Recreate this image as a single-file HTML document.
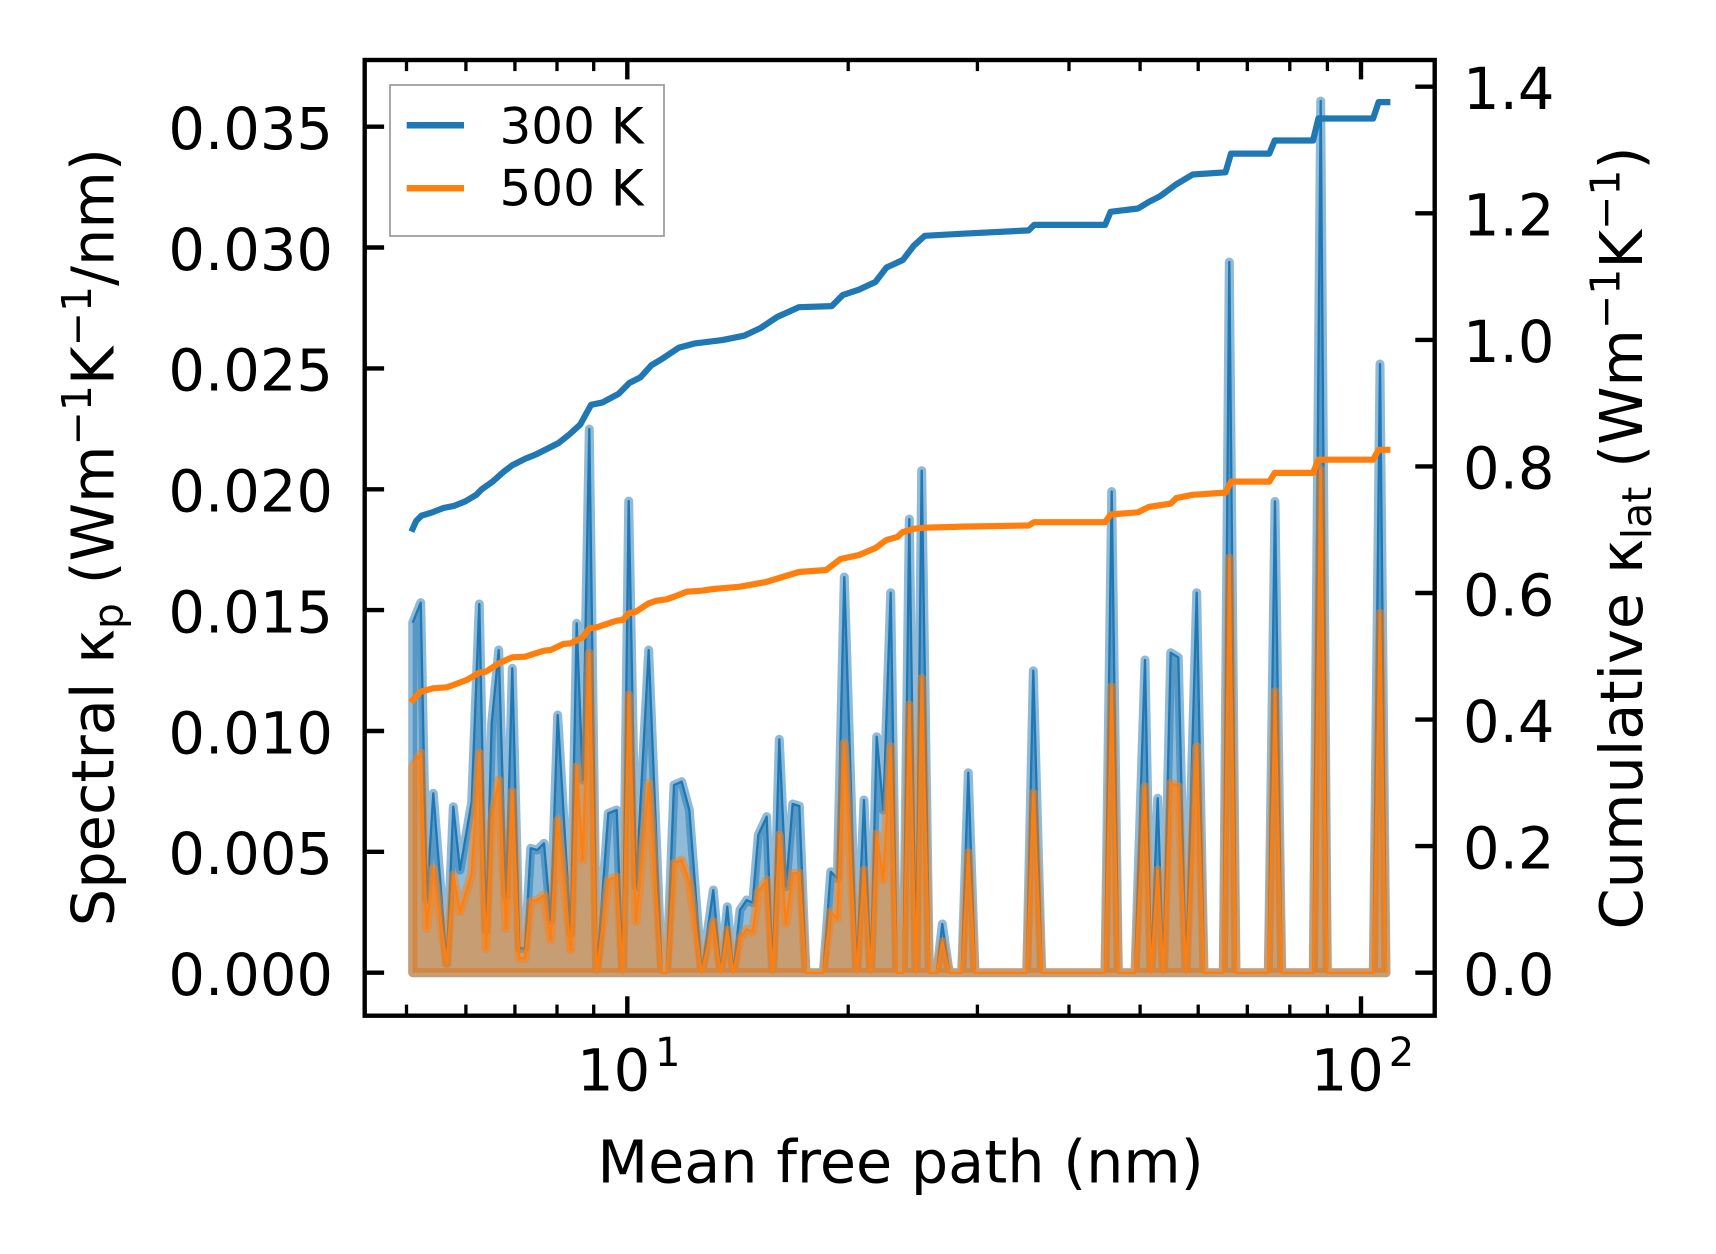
<!DOCTYPE html>
<html><head><meta charset="utf-8"><style>
html,body{margin:0;padding:0;background:#fff;}
svg{display:block;}
text{font-family:"DejaVu Sans","Liberation Sans",sans-serif;fill:#000;}
</style></head><body>
<svg width="1716" height="1254" viewBox="0 0 1716 1254" xmlns="http://www.w3.org/2000/svg">
<rect x="0" y="0" width="1716" height="1254" fill="#fff"/>

<!-- blue spectral fill -->
<path d="M412.7,972.7 L412.7,622.7 420.7,602.7 426.7,900 433.3,793.3 446.7,963.3 453.3,806.7 460,870 471.7,801.7 479.3,604 486,930 491.7,723.3 498.7,650 506,896.7 512.3,668.3 519.3,948.3 525,948.3 530.7,848.3 537.3,850 544,843.3 550.7,920 557.7,715 570.7,933.3 576.7,623.3 582.7,780 589.3,429 596.7,972.7 608.3,813.3 616.7,810 622.7,972.7 628.7,501 636,886.7 648.7,650 661.7,972.7 666.7,972.7 674,785 681.7,781.7 689.3,810 701.7,972.7 713.3,890 720.7,972.7 727.3,906.7 733.3,972.7 740,910 746.7,900 752.7,902.7 758.3,835 766.7,816.7 772.7,972.7 779.3,739.3 786,886.7 792.7,804 799.3,806 806,972.7 823.3,972.7 830.7,871.7 837.3,878.3 844.3,577 856.7,972.7 864,800 870.7,972.7 876.7,736.7 883.3,810 890.7,592.7 896.7,972.7 903.3,972.7 909.3,519 916,972.7 921.7,470.6 929.3,972.7 936.7,972.7 942.3,924 949.3,972.7 961.7,972.7 968.3,772.7 975,972.7 1026.7,972.7 1033.3,670.7 1041.7,972.7 1105,972.7 1111.7,491.5 1118.3,972.7 1135,972.7 1145,660 1151,972.7 1157.7,798.3 1163.3,972.7 1170.7,652.7 1178.3,657.3 1186,972.7 1196.7,592.7 1204,972.7 1223.3,972.7 1229.3,262 1236,972.7 1268.3,972.7 1275,501.4 1281.7,972.7 1313.3,972.7 1320.7,101 1327.3,972.7 1373.3,972.7 1380,364 1386,972.7 Z" fill="#1f77b4" fill-opacity="0.5" stroke="#1f77b4" stroke-opacity="0.5" stroke-width="9" stroke-linejoin="round"/>
<polyline points="412.7,622.7 420.7,602.7 426.7,900 433.3,793.3 446.7,963.3 453.3,806.7 460,870 471.7,801.7 479.3,604 486,930 491.7,723.3 498.7,650 506,896.7 512.3,668.3 519.3,948.3 525,948.3 530.7,848.3 537.3,850 544,843.3 550.7,920 557.7,715 570.7,933.3 576.7,623.3 582.7,780 589.3,429 596.7,972.7 608.3,813.3 616.7,810 622.7,972.7 628.7,501 636,886.7 648.7,650 661.7,972.7 666.7,972.7 674,785 681.7,781.7 689.3,810 701.7,972.7 713.3,890 720.7,972.7 727.3,906.7 733.3,972.7 740,910 746.7,900 752.7,902.7 758.3,835 766.7,816.7 772.7,972.7 779.3,739.3 786,886.7 792.7,804 799.3,806 806,972.7 823.3,972.7 830.7,871.7 837.3,878.3 844.3,577 856.7,972.7 864,800 870.7,972.7 876.7,736.7 883.3,810 890.7,592.7 896.7,972.7 903.3,972.7 909.3,519 916,972.7 921.7,470.6 929.3,972.7 936.7,972.7 942.3,924 949.3,972.7 961.7,972.7 968.3,772.7 975,972.7 1026.7,972.7 1033.3,670.7 1041.7,972.7 1105,972.7 1111.7,491.5 1118.3,972.7 1135,972.7 1145,660 1151,972.7 1157.7,798.3 1163.3,972.7 1170.7,652.7 1178.3,657.3 1186,972.7 1196.7,592.7 1204,972.7 1223.3,972.7 1229.3,262 1236,972.7 1268.3,972.7 1275,501.4 1281.7,972.7 1313.3,972.7 1320.7,101 1327.3,972.7 1373.3,972.7 1380,364 1386,972.7" fill="none" stroke="#1f77b4" stroke-width="2.3" stroke-linejoin="round"/>

<!-- orange spectral fill -->
<path d="M412.7,972.7 L412.7,766.7 420.7,753.3 426.7,928.3 433.3,868.3 446.7,963.3 453.3,875 460,911.7 471.7,873.3 479.3,753.3 486,948.3 491.7,820 498.7,780 506,928.3 512.3,791.7 519.3,958.3 525,958.3 530.7,901.7 537.3,900 544,895 550.7,940 557.7,820 570.7,950 576.7,766.7 582.7,860 589.3,653.3 596.7,972.7 608.3,880 616.7,876.7 622.7,972.7 628.7,695 636,921.7 648.7,783.3 661.7,972.7 666.7,972.7 674,863.3 681.7,860 689.3,881.7 701.7,972.7 713.3,921.7 720.7,972.7 727.3,930 733.3,972.7 740,938.3 746.7,929.3 752.7,931.7 758.3,891.7 766.7,880 772.7,972.7 779.3,835 786,923.3 792.7,873.3 799.3,873.3 806,972.7 823.3,972.7 830.7,911.7 837.3,918.3 844.3,743.3 856.7,972.7 864,870 870.7,972.7 876.7,834 883.3,880 890.7,746.7 896.7,972.7 903.3,972.7 909.3,705 916,972.7 921.7,678.3 929.3,972.7 936.7,972.7 942.3,941.7 949.3,972.7 961.7,972.7 968.3,852.7 975,972.7 1026.7,972.7 1033.3,793.3 1041.7,972.7 1105,972.7 1111.7,686.7 1118.3,972.7 1135,972.7 1145,786.7 1151,972.7 1157.7,870 1163.3,972.7 1170.7,783.3 1178.3,786.7 1186,972.7 1196.7,746.7 1204,972.7 1223.3,972.7 1229.3,558 1236,972.7 1268.3,972.7 1275,691.7 1281.7,972.7 1313.3,972.7 1320.7,470 1327.3,972.7 1373.3,972.7 1380,613.3 1386,972.7 Z" fill="#ff7f0e" fill-opacity="0.5" stroke="#ff7f0e" stroke-opacity="0.5" stroke-width="9" stroke-linejoin="round"/>
<polyline points="412.7,766.7 420.7,753.3 426.7,928.3 433.3,868.3 446.7,963.3 453.3,875 460,911.7 471.7,873.3 479.3,753.3 486,948.3 491.7,820 498.7,780 506,928.3 512.3,791.7 519.3,958.3 525,958.3 530.7,901.7 537.3,900 544,895 550.7,940 557.7,820 570.7,950 576.7,766.7 582.7,860 589.3,653.3 596.7,972.7 608.3,880 616.7,876.7 622.7,972.7 628.7,695 636,921.7 648.7,783.3 661.7,972.7 666.7,972.7 674,863.3 681.7,860 689.3,881.7 701.7,972.7 713.3,921.7 720.7,972.7 727.3,930 733.3,972.7 740,938.3 746.7,929.3 752.7,931.7 758.3,891.7 766.7,880 772.7,972.7 779.3,835 786,923.3 792.7,873.3 799.3,873.3 806,972.7 823.3,972.7 830.7,911.7 837.3,918.3 844.3,743.3 856.7,972.7 864,870 870.7,972.7 876.7,834 883.3,880 890.7,746.7 896.7,972.7 903.3,972.7 909.3,705 916,972.7 921.7,678.3 929.3,972.7 936.7,972.7 942.3,941.7 949.3,972.7 961.7,972.7 968.3,852.7 975,972.7 1026.7,972.7 1033.3,793.3 1041.7,972.7 1105,972.7 1111.7,686.7 1118.3,972.7 1135,972.7 1145,786.7 1151,972.7 1157.7,870 1163.3,972.7 1170.7,783.3 1178.3,786.7 1186,972.7 1196.7,746.7 1204,972.7 1223.3,972.7 1229.3,558 1236,972.7 1268.3,972.7 1275,691.7 1281.7,972.7 1313.3,972.7 1320.7,470 1327.3,972.7 1373.3,972.7 1380,613.3 1386,972.7" fill="none" stroke="#ff7f0e" stroke-width="2.3" stroke-linejoin="round"/>

<!-- cumulative lines -->
<polyline points="412.7,528.8 416.1,521.1 421.6,515.6 432.5,512.3 443.4,508 454.4,505.8 465.3,501.4 476.3,494.8 481.7,489.3 492.7,481.6 503.6,471.8 512.4,465.2 525.5,458.6 536.4,454.2 547.4,448.7 558.3,443.2 569.3,434.5 580.2,424.6 591.1,404.8 602.1,402.6 618.5,393.9 629.4,382.9 640.4,377.4 651.3,365.3 662.2,358.8 678.6,347.8 695,343.4 722.3,340.1 744.2,335.7 760.6,328 777.1,317 798.9,307.2 831.8,306.1 842.7,295.1 859.1,289.6 875.5,281.9 886.4,267.6 902.8,260 913.8,245.7 924.7,235.8 963,233.7 1028.6,230.4 1034.1,224.9 1105.1,224.9 1110.6,211.8 1138,208.5 1148.9,201.9 1159.8,196.4 1176.3,184.3 1192.7,174.5 1225.5,172.3 1231,153.6 1269.3,153.6 1274.7,140.5 1313,140.5 1318.4,118.5 1373.1,118.5 1378.6,102.1 1387.3,102.1" fill="none" stroke="#1f77b4" stroke-width="6.2" stroke-linejoin="round" stroke-linecap="square"/>
<polyline points="412.7,700 420.7,691.7 433.3,688.3 446.7,687.3 453.3,685 466.7,680 479.3,672.7 486,671.7 498.7,663.3 512.3,657.3 525,656.7 544,650.7 550.7,650 563.3,644 570.7,643.3 582.7,637.3 589.3,628.3 596.7,627.3 616.7,620.7 622.7,620 628.7,613.3 636,611.7 648.7,603.3 656.7,600.7 666.7,599.3 674,596.7 686.7,591.7 701.7,590.7 713.3,589 733.3,587.3 740,586.7 766.1,582 798.9,572 826.2,570 840.5,559 859.1,555 875.5,548 886.4,540 897.3,537 902.8,532.1 913.8,528.8 924.7,527.7 963,526.6 1028.6,525.5 1034.1,522.2 1105.1,522.2 1110.6,514.5 1138,512.3 1148.9,506.9 1170.8,503.6 1176.3,498.1 1192.7,494.8 1225.5,492.6 1231,481.6 1269.3,481.6 1274.7,472.9 1313,472.9 1318.4,459.7 1373.1,459.7 1378.6,449.8 1387.3,449.8" fill="none" stroke="#ff7f0e" stroke-width="6.2" stroke-linejoin="round" stroke-linecap="square"/>

<!-- axes frame -->
<rect x="364.7" y="60" width="1070" height="955.7" fill="none" stroke="#000" stroke-width="4.4"/>

<!-- x major ticks (bottom & top) -->
<g stroke="#000" stroke-width="4.4">
<line x1="627.3" y1="1015.7" x2="627.3" y2="996.3"/>
<line x1="1361" y1="1015.7" x2="1361" y2="996.3"/>
<line x1="627.3" y1="60" x2="627.3" y2="79.4"/>
<line x1="1361" y1="60" x2="1361" y2="79.4"/>
</g>
<!-- x minor ticks -->
<g stroke="#000" stroke-width="3.3">
<line x1="406.5" y1="1015.7" x2="406.5" y2="1004.6"/>
<line x1="465.9" y1="1015.7" x2="465.9" y2="1004.6"/>
<line x1="514.9" y1="1015.7" x2="514.9" y2="1004.6"/>
<line x1="557.0" y1="1015.7" x2="557.0" y2="1004.6"/>
<line x1="593.7" y1="1015.7" x2="593.7" y2="1004.6"/>
<line x1="848.2" y1="1015.7" x2="848.2" y2="1004.6"/>
<line x1="977.4" y1="1015.7" x2="977.4" y2="1004.6"/>
<line x1="1069.0" y1="1015.7" x2="1069.0" y2="1004.6"/>
<line x1="1140.1" y1="1015.7" x2="1140.1" y2="1004.6"/>
<line x1="1198.2" y1="1015.7" x2="1198.2" y2="1004.6"/>
<line x1="1247.3" y1="1015.7" x2="1247.3" y2="1004.6"/>
<line x1="1289.8" y1="1015.7" x2="1289.8" y2="1004.6"/>
<line x1="1327.4" y1="1015.7" x2="1327.4" y2="1004.6"/>
<line x1="406.5" y1="60" x2="406.5" y2="71.1"/>
<line x1="465.9" y1="60" x2="465.9" y2="71.1"/>
<line x1="514.9" y1="60" x2="514.9" y2="71.1"/>
<line x1="557.0" y1="60" x2="557.0" y2="71.1"/>
<line x1="593.7" y1="60" x2="593.7" y2="71.1"/>
<line x1="848.2" y1="60" x2="848.2" y2="71.1"/>
<line x1="977.4" y1="60" x2="977.4" y2="71.1"/>
<line x1="1069.0" y1="60" x2="1069.0" y2="71.1"/>
<line x1="1140.1" y1="60" x2="1140.1" y2="71.1"/>
<line x1="1198.2" y1="60" x2="1198.2" y2="71.1"/>
<line x1="1247.3" y1="60" x2="1247.3" y2="71.1"/>
<line x1="1289.8" y1="60" x2="1289.8" y2="71.1"/>
<line x1="1327.4" y1="60" x2="1327.4" y2="71.1"/>
</g>
<!-- left y ticks -->
<g stroke="#000" stroke-width="4.4">
<line x1="364.7" y1="972.7" x2="384.1" y2="972.7"/>
<line x1="364.7" y1="851.8" x2="384.1" y2="851.8"/>
<line x1="364.7" y1="731.0" x2="384.1" y2="731.0"/>
<line x1="364.7" y1="610.1" x2="384.1" y2="610.1"/>
<line x1="364.7" y1="489.3" x2="384.1" y2="489.3"/>
<line x1="364.7" y1="368.4" x2="384.1" y2="368.4"/>
<line x1="364.7" y1="247.5" x2="384.1" y2="247.5"/>
<line x1="364.7" y1="126.7" x2="384.1" y2="126.7"/>
<!-- right y ticks -->
<line x1="1434.7" y1="972.7" x2="1415.3" y2="972.7"/>
<line x1="1434.7" y1="846.1" x2="1415.3" y2="846.1"/>
<line x1="1434.7" y1="719.6" x2="1415.3" y2="719.6"/>
<line x1="1434.7" y1="593.0" x2="1415.3" y2="593.0"/>
<line x1="1434.7" y1="466.4" x2="1415.3" y2="466.4"/>
<line x1="1434.7" y1="339.9" x2="1415.3" y2="339.9"/>
<line x1="1434.7" y1="213.3" x2="1415.3" y2="213.3"/>
<line x1="1434.7" y1="86.7" x2="1415.3" y2="86.7"/>
</g>

<!-- left tick labels -->
<g font-size="57.5" text-anchor="end">
<text x="333" y="995">0.000</text>
<text x="333" y="874.1">0.005</text>
<text x="333" y="753.3">0.010</text>
<text x="333" y="632.4">0.015</text>
<text x="333" y="511.6">0.020</text>
<text x="333" y="390.7">0.025</text>
<text x="333" y="269.8">0.030</text>
<text x="333" y="149">0.035</text>
</g>
<!-- right tick labels -->
<g font-size="57.5" text-anchor="start">
<text x="1463" y="995">0.0</text>
<text x="1463" y="868.4">0.2</text>
<text x="1463" y="741.9">0.4</text>
<text x="1463" y="615.3">0.6</text>
<text x="1463" y="488.7">0.8</text>
<text x="1463" y="362.2">1.0</text>
<text x="1463" y="235.6">1.2</text>
<text x="1463" y="109">1.4</text>
</g>
<!-- x tick labels -->
<text x="577" y="1090.7" font-size="57.5">10</text>
<text x="655" y="1066" font-size="40">1</text>
<text x="1310.7" y="1090.7" font-size="57.5">10</text>
<text x="1388.7" y="1066" font-size="40">2</text>

<!-- axis labels -->
<text x="900.5" y="1182.7" font-size="58.8" text-anchor="middle">Mean free path (nm)</text>
<text transform="translate(113.3,537.2) rotate(-90)" font-size="59" text-anchor="middle">Spectral κ<tspan font-size="41" dy="9">p</tspan><tspan dy="-9"> (Wm</tspan><tspan font-size="41" dy="-22.5">−1</tspan><tspan dy="22.5">K</tspan><tspan font-size="41" dy="-22.5">−1</tspan><tspan dy="22.5">/nm)</tspan></text>
<text transform="translate(1642,538) rotate(-90)" font-size="59" text-anchor="middle">Cumulative κ<tspan font-size="41" dy="9">lat</tspan><tspan dy="-9"> (Wm</tspan><tspan font-size="41" dy="-22.5">−1</tspan><tspan dy="22.5">K</tspan><tspan font-size="41" dy="-22.5">−1</tspan><tspan dy="22.5">)</tspan></text>

<!-- legend -->
<rect x="390" y="85" width="274" height="151" fill="#fff" fill-opacity="0.8" stroke="#999" stroke-width="1.7"/>
<line x1="406.7" y1="125.3" x2="464" y2="125.3" stroke="#1f77b4" stroke-width="6.5"/>
<line x1="406.7" y1="188.3" x2="464" y2="188.3" stroke="#ff7f0e" stroke-width="6.5"/>
<text x="499.5" y="143.3" font-size="50">300 K</text>
<text x="499.5" y="205.7" font-size="50">500 K</text>
</svg>
</body></html>
